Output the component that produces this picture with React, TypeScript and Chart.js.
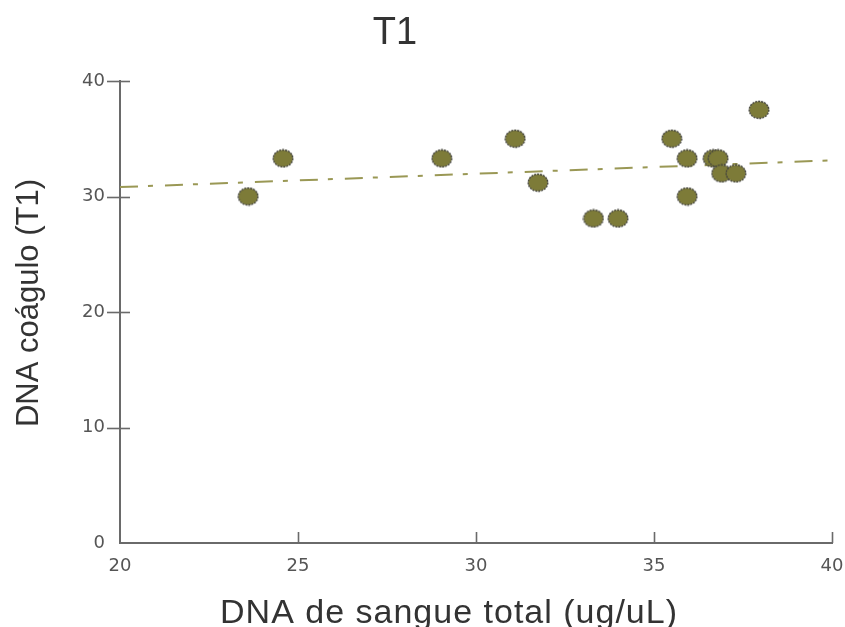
import React, { useEffect, useRef } from "react";
import { Chart, registerables } from "chart.js";

Chart.register(...registerables);

const chartTitle = "T1";
const xAxisTitle = "DNA de sangue total (ug/uL)";
const yAxisTitle = "DNA coágulo (T1)";

const xValues = [23.6, 24.58, 29.04, 31.1, 31.74, 33.3, 33.99, 35.5, 35.93, 35.93, 36.66, 36.8, 36.9, 37.3, 37.95];
const yValues = [30.0, 33.3, 33.3, 35.0, 31.2, 28.1, 28.1, 35.0, 33.3, 30.0, 33.3, 33.3, 32.0, 32.0, 37.5];

const xMin = 20;
const xMax = 40;
const xStep = 5;
const yMin = 0;
const yMax = 40;
const yStep = 10;

function linearFit(xs: number[], ys: number[]) {
  const n = xs.length;
  const mx = xs.reduce((a, b) => a + b, 0) / n;
  const my = ys.reduce((a, b) => a + b, 0) / n;
  let sxy = 0;
  let sxx = 0;
  for (let i = 0; i < n; i++) {
    sxy += (xs[i] - mx) * (ys[i] - my);
    sxx += (xs[i] - mx) * (xs[i] - mx);
  }
  const slope = sxy / sxx;
  const intercept = my - slope * mx;
  return (x: number) => intercept + slope * x;
}

export default function App() {
  const ref = useRef<HTMLCanvasElement>(null);

  useEffect(() => {
    if (!ref.current) return;

    const marker = document.createElement("canvas");
    marker.width = 22;
    marker.height = 20;
    const m = marker.getContext("2d")!;
    m.beginPath();
    m.ellipse(11, 10, 9.8, 8.5, 0, 0, Math.PI * 2);
    m.fillStyle = "#7d7b38";
    m.fill();
    m.setLineDash([2, 1]);
    m.strokeStyle = "#45453e";
    m.lineWidth = 1.4;
    m.stroke();

    const fit = linearFit(xValues, yValues);
    const trend = [
      { x: xMin, y: fit(xMin) },
      { x: xMax, y: fit(xMax) },
    ];

    const decor = {
      id: "decor",
      afterDraw(chart: any) {
        const ctx = chart.ctx as CanvasRenderingContext2D;
        const xs = chart.scales.x;
        const ys = chart.scales.y;
        const area = chart.chartArea;
        ctx.save();
        ctx.strokeStyle = "#6a6a6a";
        ctx.lineWidth = 1.6;
        for (let v = yMin + yStep; v <= yMax; v += yStep) {
          const py = Math.round(ys.getPixelForValue(v)) + 0.5;
          ctx.beginPath();
          ctx.moveTo(area.left - 13, py);
          ctx.lineTo(area.left + 10, py);
          ctx.stroke();
        }
        for (let v = xMin + xStep; v <= xMax; v += xStep) {
          const px = Math.round(xs.getPixelForValue(v)) + 0.5;
          ctx.beginPath();
          ctx.moveTo(px, area.bottom);
          ctx.lineTo(px, area.bottom - 11);
          ctx.stroke();
        }
        ctx.fillStyle = "#333333";
        ctx.textAlign = "center";
        ctx.textBaseline = "alphabetic";
        ctx.font = "38px 'Liberation Sans', Arial, sans-serif";
        ctx.fillText(chartTitle, 395, 44);
        ctx.font = "34px 'Liberation Sans', Arial, sans-serif";
        (ctx as any).letterSpacing = "1px";
        ctx.fillText(xAxisTitle, 449, 623);
        (ctx as any).letterSpacing = "0px";
        ctx.translate(38, 303);
        ctx.rotate(-Math.PI / 2);
        ctx.font = "31px 'Liberation Sans', Arial, sans-serif";
        ctx.fillText(yAxisTitle, 0, 0);
        ctx.restore();
      },
    };

    const chart = new Chart(ref.current, {
      type: "scatter",
      data: {
        datasets: [
          {
            label: "points",
            data: xValues.map((x, i) => ({ x, y: yValues[i] })),
            pointStyle: marker as any,
            pointRadius: 10,
            pointHoverRadius: 10,
          },
          {
            label: "trend",
            type: "line" as any,
            data: trend,
            showLine: true,
            borderColor: "#9a9855",
            borderWidth: 2,
            borderDash: [18, 10, 5, 12],
            pointRadius: 0,
            fill: false,
          },
        ],
      },
      options: {
        animation: false,
        responsive: false,
        events: [],
        layout: { padding: { top: 81, right: 13, left: 0, bottom: 0 } },
        plugins: {
          legend: { display: false },
          title: { display: false },
          tooltip: { enabled: false },
        },
        scales: {
          x: {
            type: "linear",
            min: xMin,
            max: xMax,
            afterFit: (s: any) => {
              s.height = 84;
              s.paddingLeft = 0;
              s.paddingRight = 0;
            },
            ticks: {
              stepSize: xStep,
              color: "#555555",
              padding: 13,
              font: { family: "'DejaVu Sans', sans-serif", size: 18 },
            },
            grid: { display: true, drawOnChartArea: false, drawTicks: false },
            border: { display: true, color: "#6a6a6a", width: 2 },
          },
          y: {
            type: "linear",
            min: yMin,
            max: yMax,
            afterFit: (s: any) => {
              s.width = 120;
              s.paddingTop = 0;
              s.paddingBottom = 0;
            },
            ticks: {
              stepSize: yStep,
              color: "#555555",
              padding: 15,
              font: { family: "'DejaVu Sans', sans-serif", size: 18 },
            },
            grid: { display: true, drawOnChartArea: false, drawTicks: false },
            border: { display: true, color: "#6a6a6a", width: 2 },
          },
        },
      },
      plugins: [decor],
    });

    return () => chart.destroy();
  }, []);

  return (
    <div style={{ position: "absolute", left: 0, top: 0, width: 845, height: 627, background: "#fff" }}>
      <canvas ref={ref} width={845} height={627} />
    </div>
  );
}
